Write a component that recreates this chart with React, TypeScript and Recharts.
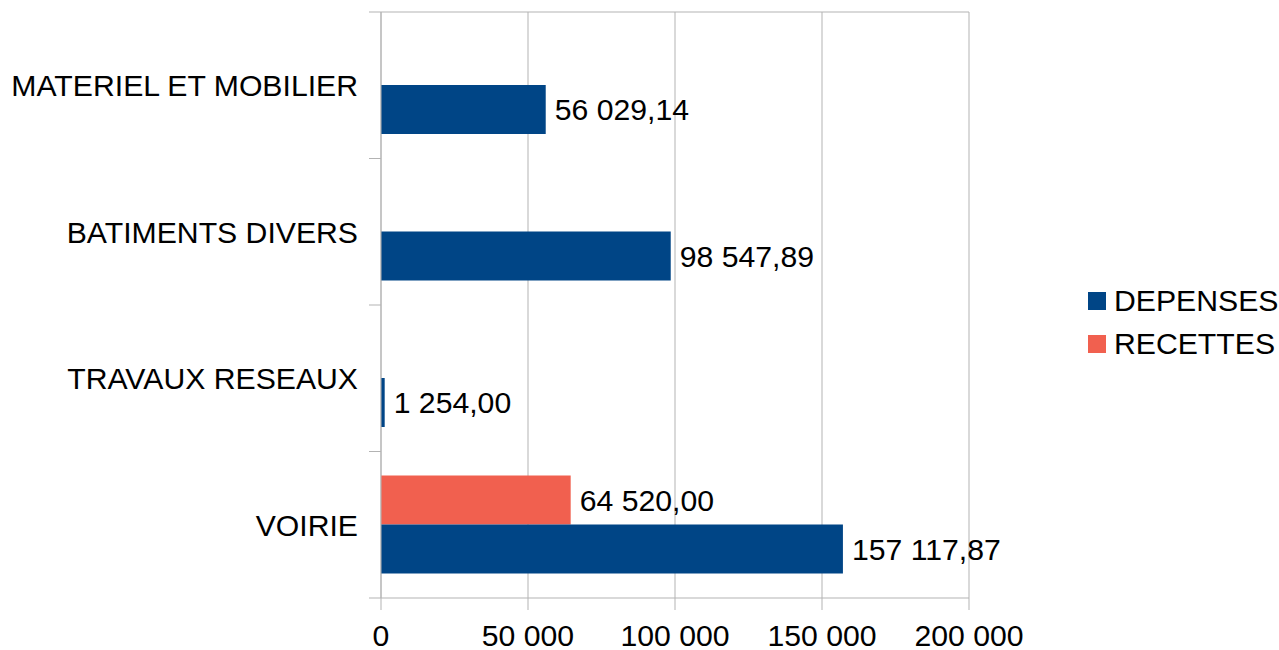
import React from 'react';
import { BarChart, Bar, XAxis, YAxis, CartesianGrid, LabelList } from 'recharts';

const categories = ['MATERIEL ET MOBILIER', 'BATIMENTS DIVERS', 'TRAVAUX RESEAUX', 'VOIRIE'];
const depenses = [56029.14, 98547.89, 1254.0, 157117.87];
const recettes: (number | null)[] = [null, null, null, 64520.0];
const xTicks = [0, 50000, 100000, 150000, 200000];

const seriesNames = ['DEPENSES', 'RECETTES'];
const colors = ['#004586', '#f1604f'];

const data = categories.map((c, i) => ({ name: c, DEPENSES: depenses[i], RECETTES: recettes[i] }));

const FONT = '"Liberation Sans", Arial, sans-serif';
const FS = 30.2;
const GRID = '#b3b3b3';

const group = (s: string) => s.replace(/\B(?=(\d{3})+(?!\d))/g, ' ');
const fmtTick = (v: number) => group(String(v));
const fmtVal = (v: any) => {
  if (v === null || v === undefined) return '';
  const [a, b] = Number(v).toFixed(2).split('.');
  return group(a) + ',' + b;
};

const CatTick = (props: any) => {
  const { x, y, payload, index, visibleTicksCount } = props;
  const off = payload && payload.offset ? payload.offset : 0;
  const isLast = index === (visibleTicksCount ?? categories.length) - 1;
  return (
    <g>
      <line x1={x - 12} x2={x} y1={y - off} y2={y - off} stroke={GRID} strokeWidth={1} />
      {isLast && <line x1={x - 12} x2={x} y1={y + off} y2={y + off} stroke={GRID} strokeWidth={1} />}
      <text x={x - 23} y={y} dy="0.36em" textAnchor="end" fontFamily={FONT} fontSize={FS} fill="#000">
        {payload.value}
      </text>
    </g>
  );
};

const LegendBox = () => (
  <div style={{ position: 'absolute', left: 1088, top: 279, fontFamily: FONT, fontSize: FS, color: '#000' }}>
    {seriesNames.map((n, i) => (
      <div key={n} style={{ display: 'flex', alignItems: 'center', height: 43, whiteSpace: 'nowrap' }}>
        <span style={{ display: 'inline-block', width: 18, height: 18, background: colors[i], marginRight: 8 }} />
        <span>{n}</span>
      </div>
    ))}
  </div>
);

export default function App() {
  return (
    <div style={{ position: 'absolute', left: 0, top: 0, width: 1279, height: 650, background: '#fff' }}>
      <BarChart
        width={1279}
        height={650}
        data={data}
        layout="vertical"
        margin={{ top: 12, right: 310, left: 0, bottom: 0 }}
        barGap={0}
      >
        <CartesianGrid
          stroke={GRID}
          vertical={true}
          horizontal={true}
          horizontalCoordinatesGenerator={({ offset }: any) => [offset.top]}
        />
        <XAxis
          type="number"
          domain={[0, 200000]}
          ticks={xTicks}
          tickFormatter={fmtTick}
          stroke={GRID}
          tickSize={12}
          tickMargin={15}
          height={52}
          interval={0}
          tick={{ fill: '#000', fontFamily: FONT, fontSize: FS }}
        />
        <YAxis
          type="category"
          dataKey="name"
          width={381}
          stroke={GRID}
          tickLine={false}
          tickSize={0}
          tickMargin={0}
          interval={0}
          tick={<CatTick />}
        />
        <Bar dataKey="RECETTES" fill={colors[1]} barSize={49} isAnimationActive={false}>
          <LabelList
            dataKey="RECETTES"
            position="right"
            offset={9}
            formatter={fmtVal}
            style={{ fill: '#000', fontFamily: FONT, fontSize: FS }}
          />
        </Bar>
        <Bar dataKey="DEPENSES" fill={colors[0]} barSize={49} isAnimationActive={false}>
          <LabelList
            dataKey="DEPENSES"
            position="right"
            offset={9}
            formatter={fmtVal}
            style={{ fill: '#000', fontFamily: FONT, fontSize: FS }}
          />
        </Bar>
      </BarChart>
      <LegendBox />
    </div>
  );
}
